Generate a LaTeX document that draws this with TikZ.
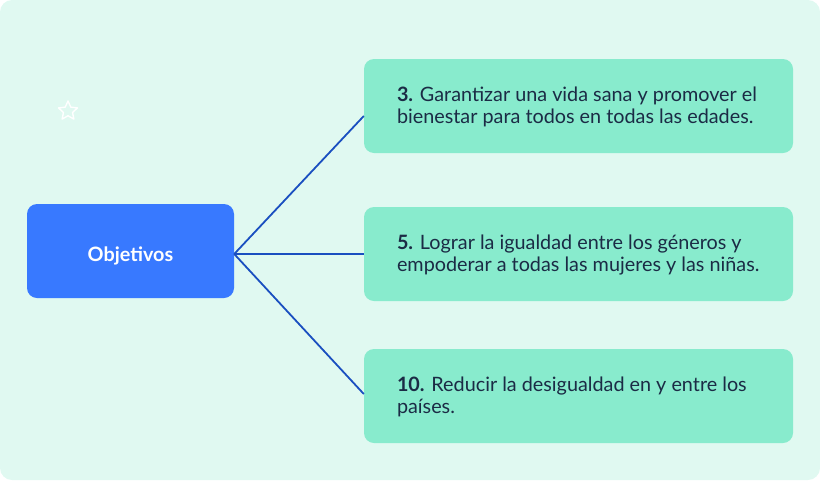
\documentclass[tikz,border=0pt]{standalone}
\usepackage{fontspec}
\setmainfont{Lato}
\usetikzlibrary{shapes.geometric}
\definecolor{bgmint}{HTML}{E0F9F1}
\definecolor{objblue}{HTML}{3879FF}
\definecolor{boxgreen}{HTML}{88EBCD}
\definecolor{linkblue}{HTML}{1A4FC0}
\definecolor{txtnavy}{HTML}{1B2B45}
\begin{document}
\begin{tikzpicture}[x=1pt,y=-1pt,
  goalbox/.style={fill=boxgreen, draw=none, rounded corners=10pt, minimum width=429pt, minimum height=94pt, inner sep=0pt},
  rootbox/.style={fill=objblue, draw=none, rounded corners=10pt, minimum width=207pt, minimum height=94pt, inner sep=0pt},
  goaltext/.style={anchor=west, align=left, text=txtnavy, font=\fontsize{19.8}{22}\selectfont, inner sep=0pt},
  roottext/.style={text=white, font=\fontsize{19.8}{22}\selectfont\bfseries, inner sep=0pt},
  link/.style={draw=linkblue, line width=1.8pt}]
\useasboundingbox (0,0) rectangle (820,480);
\fill[bgmint, rounded corners=12pt] (0,0) rectangle (820,480);
\node[star, star points=5, star point ratio=2.1, minimum size=20pt, draw=white, line width=1.4pt, line join=round, inner sep=0pt] (star) at (68,111) {};
\node[rootbox] (obj) at (130.5,251) {};
\node[roottext] (objt) at (130.5,256) {Objetivos};
\node[goalbox] (b1) at (578.5,106) {};
\node[goalbox] (b2) at (578.5,254) {};
\node[goalbox] (b3) at (578.5,396) {};
\node[goaltext] (t1) at ([xshift=33pt,yshift=-1pt]b1.west) {\textbf{3.} Garantizar una vida sana y promover el\\bienestar para todos en todas las edades.};
\node[goaltext] (t2) at ([xshift=33pt,yshift=-1pt]b2.west) {\textbf{5.} Lograr la igualdad entre los géneros y\\empoderar a todas las mujeres y las niñas.};
\node[goaltext] (t3) at ([xshift=33pt,yshift=-1pt]b3.west) {\textbf{10.} Reducir la desigualdad en y entre los\\países.};
\coordinate (src) at ([yshift=-3pt]obj.east);
\draw[link] (src) -- ([yshift=-10pt]b1.west);
\draw[link] (src) -- (b2.west);
\draw[link] (src) -- ([yshift=2pt]b3.west);
\end{tikzpicture}
\end{document}
